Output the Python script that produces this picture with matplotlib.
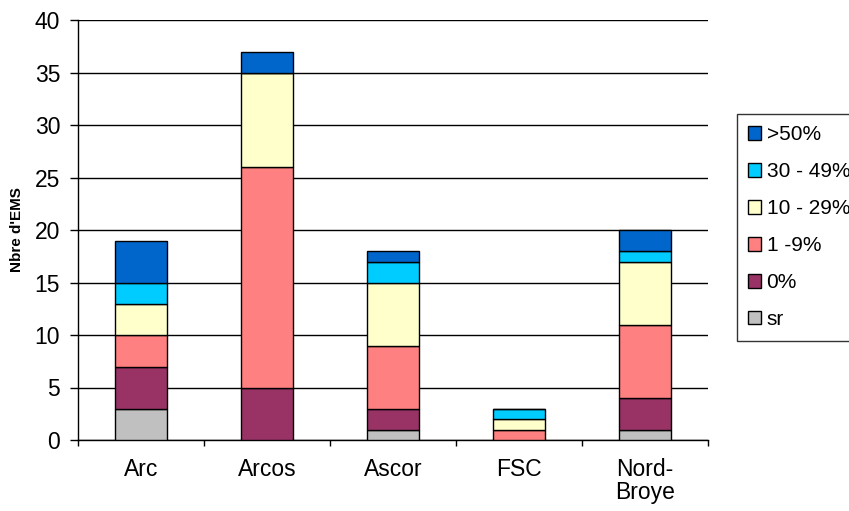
import matplotlib
matplotlib.use("Agg")
import matplotlib.pyplot as plt
import numpy as np

categories = ["Arc", "Arcos", "Ascor", "FSC", "Nord-\nBroye"]
series_names = ["sr", "0%", "1 -9%", "10 - 29%", "30 - 49%", ">50%"]
sr = [3, 0, 1, 0, 1]
p0 = [4, 5, 2, 0, 3]
p1_9 = [3, 21, 6, 1, 7]
p10_29 = [3, 9, 6, 1, 6]
p30_49 = [2, 0, 2, 1, 1]
p50 = [4, 2, 1, 0, 2]
colors = ["#C0C0C0", "#993366", "#FF8080", "#FFFFCC", "#00CCFF", "#0066CC"]

data = [sr, p0, p1_9, p10_29, p30_49, p50]

FONT = "Liberation Sans"
fig = plt.figure(figsize=(8.49, 5.11), dpi=100)
ax = fig.add_axes([78/849, 1-440/511, 630/849, 420/511])
x = np.arange(len(categories))
bottom = np.zeros(len(categories))
handles = []
for vals, name, c in zip(data, series_names, colors):
    v = np.array(vals, dtype=float)
    b = ax.bar(x, v, bottom=bottom, width=0.41, color=c, edgecolor="black",
               linewidth=1.0, label=name, zorder=3)
    handles.append(b)
    bottom += v

ax.set_xlim(-0.5, len(categories) - 0.5)
ax.set_ylim(0, 40)
ax.set_yticks(range(0, 41, 5))
ax.yaxis.grid(True, color="black", linewidth=1.0, zorder=0)
ax.set_axisbelow(True)
ax.set_xticks(x)
ax.set_xticklabels(categories, fontsize=16.5, family=FONT, linespacing=1.0)
ax.tick_params(axis="x", length=0, pad=13)
ax.set_xticks(np.arange(-0.5, len(categories) + 0.5, 1), minor=True)
ax.tick_params(axis="x", which="minor", length=4.5, width=1, direction="out")
ax.tick_params(axis="y", length=5.8, width=1, direction="out", labelsize=16.5, pad=7)
for lab in ax.get_yticklabels():
    lab.set_family(FONT)
ax.set_ylabel("Nbre d'EMS", fontsize=11, fontweight="bold", family=FONT, labelpad=8)
for s in ["top", "right"]:
    ax.spines[s].set_visible(False)
ax.spines["left"].set_linewidth(1.0)
ax.spines["bottom"].set_linewidth(1.0)

leg = fig.legend(handles[::-1], series_names[::-1], loc="upper left",
                 bbox_to_anchor=(737/849, 1-114/511), frameon=True, fancybox=False,
                 edgecolor="black", handlelength=0.62, handleheight=0.62,
                 handletextpad=0.25, labelspacing=0.86, borderpad=0.55, borderaxespad=0,
                 prop={"family": FONT, "size": 15})
leg.get_frame().set_linewidth(1.0)

fig.savefig("out.png", dpi=100)
